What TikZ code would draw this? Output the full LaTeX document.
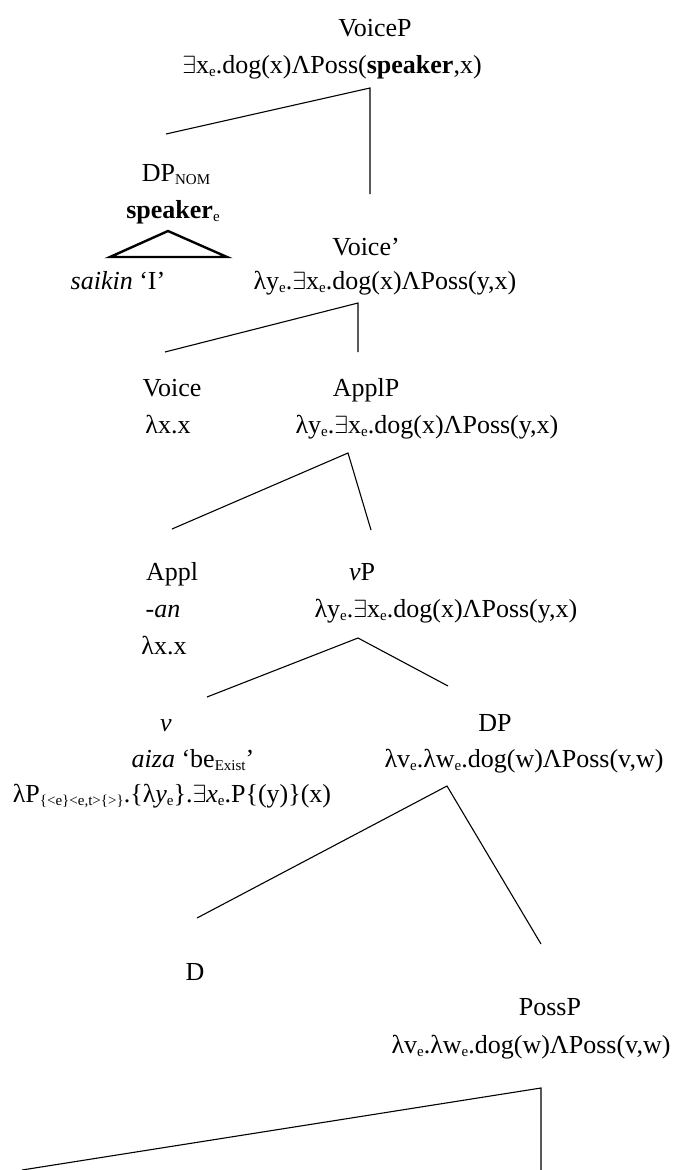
\documentclass[tikz,border=0pt]{standalone}
\usepackage{fontspec}
\setmainfont{Liberation Serif}
\newcommand\lsub[1]{\raisebox{-0.12em}{\fontsize{15}{15}\selectfont #1}}
\newcommand\exs{\ensuremath{\exists}}
\begin{document}
\begin{tikzpicture}[x=1pt,y=-1pt,
  every node/.style={inner sep=0pt, anchor=base, font=\fontsize{26}{30}\selectfont},
  edge/.style={line width=1.1pt},
  tri/.style={line width=2.4pt, line join=miter}]
\useasboundingbox (0,0) rectangle (673,1170);
% VoiceP
\node (voicep) at (375,36) {VoiceP};
\node (f1) at (332,73) {\exs x\lsub{e}.dog(x)ΛPoss(\textbf{speaker},x)};
\coordinate (a1) at (370,88);
\coordinate (l1) at (166,134);
\coordinate (r1) at (370,194);
\draw[edge] (l1) -- (a1) -- (r1);
% DP_NOM
\node (dpnom) at (176,181) {DP\lsub{NOM}};
\node (spk) at (173,218) {\textbf{speaker}\lsub{e}};
\coordinate (t1) at (168,231);
\coordinate (t2) at (110,257);
\coordinate (t3) at (227,257);
\draw[tri] (t1) -- (t2) -- (t3) -- cycle;
\node (saikin) at (118,289) {\textit{saikin} ‘I’};
% Voice'
\node (voicebar) at (366,255) {Voice’};
\node (f2) at (385,289) {λy\lsub{e}.\exs x\lsub{e}.dog(x)ΛPoss(y,x)};
\coordinate (a2) at (358,303);
\coordinate (l2) at (165,352);
\coordinate (r2) at (358,352);
\draw[edge] (l2) -- (a2) -- (r2);
% Voice / ApplP
\node (voice) at (172,396) {Voice};
\node (voicesem) at (168,433) {λx.x};
\node (applp) at (366,396) {ApplP};
\node (f3) at (427,433) {λy\lsub{e}.\exs x\lsub{e}.dog(x)ΛPoss(y,x)};
\coordinate (a3) at (348,453);
\coordinate (l3) at (172,529);
\coordinate (r3) at (371,530);
\draw[edge] (l3) -- (a3) -- (r3);
% Appl / vP
\node (appl) at (172,580) {Appl};
\node (an) at (163,617) {-\textit{an}};
\node (applsem) at (164,654) {λx.x};
\node (vp) at (362,580) {\textit{v}P};
\node (f4) at (446,617) {λy\lsub{e}.\exs x\lsub{e}.dog(x)ΛPoss(y,x)};
\coordinate (a4) at (358,638);
\coordinate (l4) at (207,697);
\coordinate (r4) at (448,686);
\draw[edge] (l4) -- (a4) -- (r4);
% v / DP
\node (v) at (166,731) {\textit{v}};
\node (aiza) at (193,767) {\textit{aiza} ‘be\lsub{Exist}’};
\node (vsem) at (172,802) {λP\lsub{\{<e\}<e,t>\{>\}}.\{λ\textit{y}\lsub{e}\}.\exs\textit{x}\lsub{e}.P\{(y)\}(x)};
\node (dp) at (495,731) {DP};
\node (f5) at (524,767) {λv\lsub{e}.λw\lsub{e}.dog(w)ΛPoss(v,w)};
\coordinate (a5) at (447,786);
\coordinate (l5) at (197,918);
\coordinate (r5) at (541,944);
\draw[edge] (l5) -- (a5) -- (r5);
% D / PossP
\node (d) at (195,980) {D};
\node (possp) at (550,1015) {PossP};
\node (f6) at (531,1053) {λv\lsub{e}.λw\lsub{e}.dog(w)ΛPoss(v,w)};
\coordinate (a6) at (541,1088);
\coordinate (l6) at (22,1170);
\coordinate (r6) at (541,1172);
\draw[edge] (l6) -- (a6) -- (r6);
\end{tikzpicture}
\end{document}
